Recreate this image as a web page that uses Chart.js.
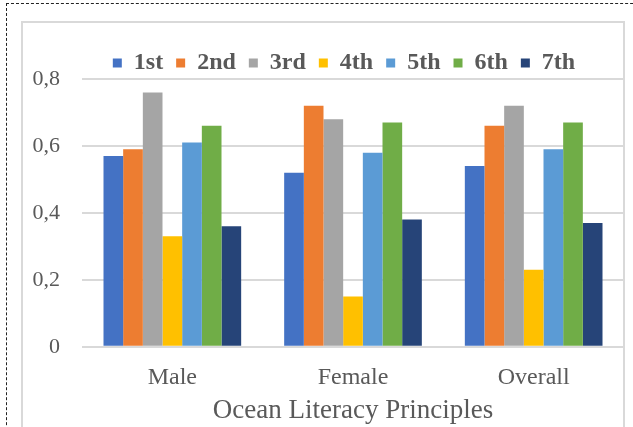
<!DOCTYPE html>
<html>
<head>
<meta charset="utf-8">
<script src="https://cdn.jsdelivr.net/npm/chart.js@4/dist/chart.umd.min.js"></script>
<style>
  html, body { margin: 0; padding: 0; width: 633px; height: 427px; overflow: hidden; background: #fff; }
  #dots { position: absolute; left: 6px; top: 3px; width: 700px; height: 500px; border: 1px dashed #222; }
  #frame { position: absolute; left: 21px; top: 21px; width: 600px; height: 500px; border: 2px solid #d9d9d9; }
  #wrap { position: absolute; left: 0; top: 0; width: 633px; height: 427px; }
</style>
</head>
<body>
<div id="dots"></div>
<div id="frame"></div>
<div id="wrap"><canvas id="chart" width="633" height="427"></canvas></div>
<script>
// categories and series
const categories = ['Male', 'Female', 'Overall'];
const seriesNames = ['1st', '2nd', '3rd', '4th', '5th', '6th', '7th'];
const first = [0.57, 0.52, 0.54];
const second = [0.59, 0.72, 0.66];
const third = [0.76, 0.68, 0.72];
const fourth = [0.33, 0.15, 0.23];
const fifth = [0.61, 0.58, 0.59];
const sixth = [0.66, 0.67, 0.67];
const seventh = [0.36, 0.38, 0.37];
const yTicks = [0, 0.2, 0.4, 0.6, 0.8];
const axisTitle = 'Ocean Literacy Principles';

const values = [first, second, third, fourth, fifth, sixth, seventh];
const colors = ['#4472C4', '#ED7D31', '#A5A5A5', '#FFC000', '#5B9BD5', '#70AD47', '#264478'];
const serif = "'Liberation Serif', 'Times New Roman', serif";
const textGray = '#595959';

// legend: trim the fixed gap below it and nudge it right like in the original
const legendTweak = {
  id: 'legendTweak',
  beforeLayout(chart) {
    const lg = chart.legend;
    if (lg && !lg._trimmed) {
      const fit = lg.fit;
      lg.fit = function () {
        fit.call(this);
        this.height -= 6;
      };
      lg._trimmed = true;
    }
  },
  afterLayout(chart) {
    const lg = chart.legend;
    if (lg) {
      lg.left += 32;
      lg.right += 32;
    }
  },
};

const ctx = document.getElementById('chart').getContext('2d');
new Chart(ctx, {
  type: 'bar',
  data: {
    labels: categories,
    datasets: seriesNames.map((name, i) => ({
      label: name,
      data: values[i],
      backgroundColor: colors[i],
      borderWidth: 0,
      categoryPercentage: 0.762,
      barPercentage: 1,
    })),
  },
  plugins: [legendTweak],
  options: {
    responsive: false,
    animation: false,
    layout: {
      padding: { top: 38, right: 9, bottom: 0, left: 0 },
    },
    plugins: {
      tooltip: { enabled: false },
      legend: {
        position: 'top',
        labels: {
          boxWidth: 9,
          boxHeight: 9,
          padding: 13,
          color: textGray,
          font: { family: serif, size: 24, weight: 'bold' },
        },
      },
    },
    scales: {
      x: {
        grid: { display: false, drawTicks: false },
        border: { display: false },
        ticks: {
          color: textGray,
          padding: 17,
          font: { family: serif, size: 24 },
        },
        title: {
          display: true,
          text: axisTitle,
          color: textGray,
          padding: { top: -15, bottom: 0 },
          font: { family: serif, size: 27 },
        },
      },
      y: {
        min: 0,
        max: 0.8,
        afterBuildTicks: (axis) => { axis.ticks = yTicks.map((v) => ({ value: v })); },
        afterFit: (axis) => { axis.width = 82; },
        grid: { color: '#d9d9d9', lineWidth: 2, drawTicks: false },
        border: { display: false },
        ticks: {
          color: textGray,
          padding: 22,
          font: { family: serif, size: 22 },
          callback: (v) => String(Math.round(v * 10) / 10).replace('.', ','),
        },
      },
    },
  },
});
</script>
</body>
</html>
